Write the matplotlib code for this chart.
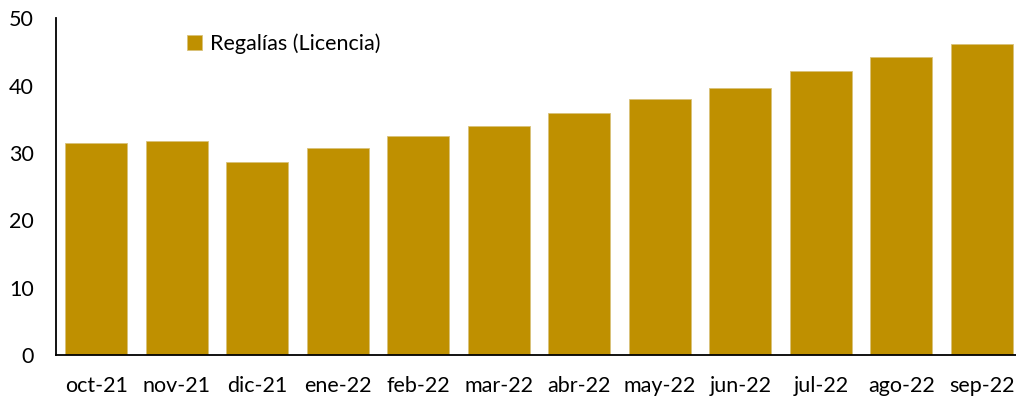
import matplotlib
matplotlib.use("Agg")
import matplotlib.pyplot as plt
import numpy as np

# monthly series
months = ["oct-21", "nov-21", "dic-21", "ene-22", "feb-22", "mar-22",
          "abr-22", "may-22", "jun-22", "jul-22", "ago-22", "sep-22"]
regalias = [31.5, 31.8, 28.6, 30.8, 32.6, 34.0, 36.0, 38.0, 39.7, 42.2, 44.2, 46.2]
yticks = [0, 10, 20, 30, 40, 50]

plt.rcParams['font.family'] = ['Lato', 'DejaVu Sans']

fig = plt.figure(figsize=(10.16, 4.0), dpi=100)
ax = fig.add_axes([0.0551, 0.1125, 1.006 - 0.0551, 0.954 - 0.1125])

x = np.arange(len(months))
ax.bar(x, regalias, width=0.77, color='#BF9000', edgecolor='#D9C27A',
       linewidth=0.6, label='Regalías (Licencia)')

ax.set_xlim(-0.5, len(months) - 0.5)
ax.set_ylim(0, 50)
ax.set_yticks(yticks)
ax.set_xticks(x)
ax.set_xticklabels(months)
ax.tick_params(axis='both', length=0, labelsize=15.5, colors='#000000')
ax.tick_params(axis='x', pad=15)
ax.tick_params(axis='y', pad=16)

for side in ['top', 'right']:
    ax.spines[side].set_visible(False)
for side in ['left', 'bottom']:
    ax.spines[side].set_color('#000000')
    ax.spines[side].set_linewidth(1.3)

ax.legend(loc='upper left', bbox_to_anchor=(0.12, 1.0), frameon=False,
          fontsize=15.5, handlelength=0.7, handleheight=0.7,
          handletextpad=0.35, borderaxespad=0.3)

fig.savefig("out.png", dpi=100)
